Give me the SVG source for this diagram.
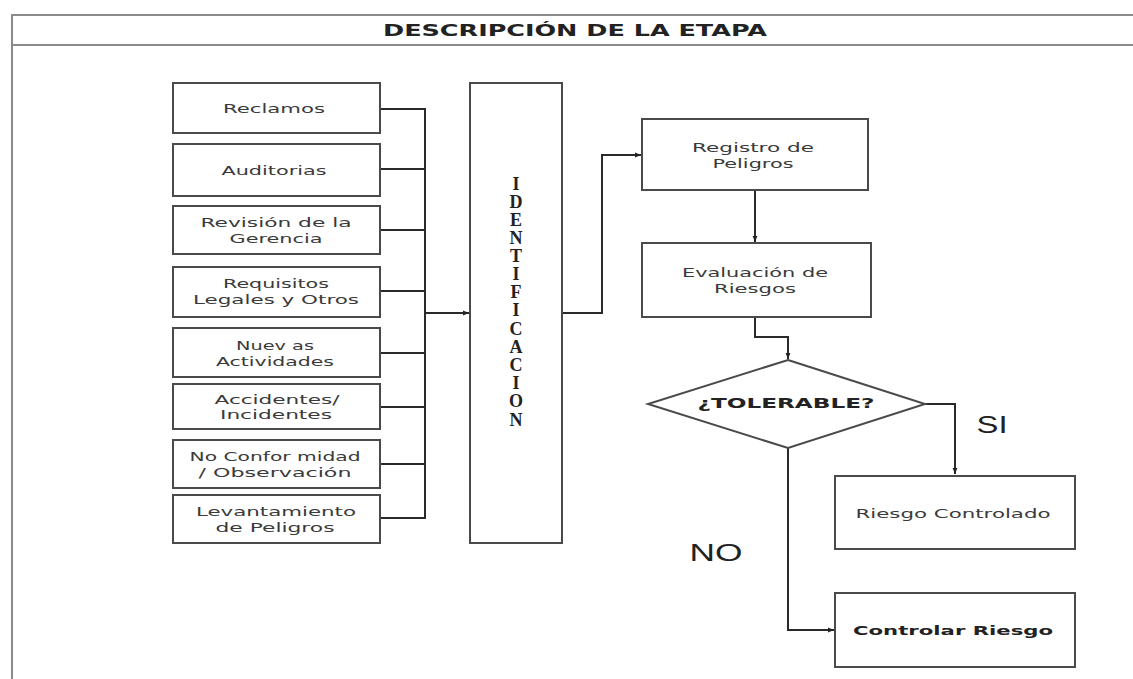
<svg xmlns="http://www.w3.org/2000/svg" width="1133" height="679" viewBox="0 0 1133 679">
  <defs>
    <marker id="arrow" viewBox="0 0 10 10" refX="10" refY="5" markerWidth="6" markerHeight="6" orient="auto" markerUnits="userSpaceOnUse">
      <path d="M0,1 L10,5 L0,9 Z" fill="#222"/>
    </marker>
    <style>
      .frame { fill: none; stroke: #8a8a8a; stroke-width: 2; }
      .box { fill: #ffffff; stroke: #4a4a4a; stroke-width: 2; }
      .wire { fill: none; stroke: #2a2a2a; stroke-width: 2; }
      .lbl { font-family: "DejaVu Sans", "Liberation Sans", sans-serif; font-size: 13px; fill: #3a3a3a; text-anchor: middle; dominant-baseline: central; }
      .strong { font-family: "DejaVu Sans", "Liberation Sans", sans-serif; font-weight: bold; fill: #222; text-anchor: middle; dominant-baseline: central; }
      .vert { font-family: "Liberation Serif", "DejaVu Serif", serif; font-weight: bold; font-size: 18px; fill: #222; text-anchor: middle; dominant-baseline: central; }
      .big { font-family: "Liberation Sans", Arial, sans-serif; font-size: 23px; fill: #222; text-anchor: middle; dominant-baseline: central; }
    </style>
  </defs>

  <rect width="1133" height="679" fill="#ffffff"/>

  <!-- page frame and heading band -->
  <g id="frame">
    <path class="frame" d="M1133,15 H12 V679"/>
    <line class="frame" x1="12" y1="45" x2="1133" y2="45"/>
    <text class="strong" x="575" y="30" font-size="16" textLength="384" lengthAdjust="spacingAndGlyphs">DESCRIPCIÓN DE LA ETAPA</text>
  </g>

  <!-- connectors -->
  <g id="connectors">
    <path class="wire" d="M380,109 H425"/>
    <path class="wire" d="M380,169 H425"/>
    <path class="wire" d="M380,230 H425"/>
    <path class="wire" d="M380,291 H425"/>
    <path class="wire" d="M380,353 H425"/>
    <path class="wire" d="M380,407 H425"/>
    <path class="wire" d="M380,464 H425"/>
    <path class="wire" d="M380,518 H425"/>
    <path class="wire" d="M425,108 V519" stroke-width="2.5"/>
    <path class="wire" d="M425,313 H469" marker-end="url(#arrow)"/>
    <path class="wire" d="M562,313 H602 V155 H641" marker-end="url(#arrow)"/>
    <path class="wire" d="M755,190 V242" marker-end="url(#arrow)"/>
    <path class="wire" d="M755,317 V337 H788 V359" marker-end="url(#arrow)"/>
    <path class="wire" d="M925,404 H955 V474" marker-end="url(#arrow)"/>
    <path class="wire" d="M788,448 V630 H834" marker-end="url(#arrow)"/>
  </g>

  <!-- source boxes -->
  <g id="reclamos">
    <rect class="box" x="173" y="83" width="207" height="50"/>
    <text class="lbl" x="274" y="108" textLength="102" lengthAdjust="spacingAndGlyphs">Reclamos</text>
  </g>
  <g id="auditorias">
    <rect class="box" x="173" y="144" width="207" height="52"/>
    <text class="lbl" x="274" y="170" textLength="105" lengthAdjust="spacingAndGlyphs">Auditorias</text>
  </g>
  <g id="revision">
    <rect class="box" x="173" y="206" width="207" height="48"/>
    <text class="lbl" x="276" y="222" textLength="151" lengthAdjust="spacingAndGlyphs">Revisión de la</text>
    <text class="lbl" x="276" y="238" textLength="93" lengthAdjust="spacingAndGlyphs">Gerencia</text>
  </g>
  <g id="requisitos">
    <rect class="box" x="173" y="267" width="207" height="50"/>
    <text class="lbl" x="276" y="283" textLength="106" lengthAdjust="spacingAndGlyphs">Requisitos</text>
    <text class="lbl" x="276" y="299" textLength="166" lengthAdjust="spacingAndGlyphs">Legales y Otros</text>
  </g>
  <g id="nuevas">
    <rect class="box" x="173" y="328" width="207" height="49"/>
    <text class="lbl" x="275" y="345" textLength="78" lengthAdjust="spacingAndGlyphs">Nuev as</text>
    <text class="lbl" x="275" y="361" textLength="118" lengthAdjust="spacingAndGlyphs">Actividades</text>
  </g>
  <g id="accidentes">
    <rect class="box" x="173" y="384" width="207" height="45"/>
    <text class="lbl" x="277" y="399" textLength="125" lengthAdjust="spacingAndGlyphs">Accidentes/</text>
    <text class="lbl" x="276" y="414" textLength="112" lengthAdjust="spacingAndGlyphs">Incidentes</text>
  </g>
  <g id="noconformidad">
    <rect class="box" x="173" y="440" width="207" height="48"/>
    <text class="lbl" x="275" y="456" textLength="171" lengthAdjust="spacingAndGlyphs">No Confor midad</text>
    <text class="lbl" x="275" y="472" textLength="153" lengthAdjust="spacingAndGlyphs">/ Observación</text>
  </g>
  <g id="levantamiento">
    <rect class="box" x="173" y="495" width="207" height="48"/>
    <text class="lbl" x="276" y="511" textLength="160" lengthAdjust="spacingAndGlyphs">Levantamiento</text>
    <text class="lbl" x="275" y="527" textLength="119" lengthAdjust="spacingAndGlyphs">de Peligros</text>
  </g>

  <!-- vertical identification column -->
  <g id="identificacion">
    <rect class="box" x="470" y="83" width="92" height="460"/>
    <text class="vert" x="516" y="184">I</text>
    <text class="vert" x="516" y="202">D</text>
    <text class="vert" x="516" y="220">E</text>
    <text class="vert" x="516" y="238">N</text>
    <text class="vert" x="516" y="256">T</text>
    <text class="vert" x="516" y="274">I</text>
    <text class="vert" x="516" y="292">F</text>
    <text class="vert" x="516" y="310">I</text>
    <text class="vert" x="516" y="329">C</text>
    <text class="vert" x="516" y="347">A</text>
    <text class="vert" x="516" y="365">C</text>
    <text class="vert" x="516" y="383">I</text>
    <text class="vert" x="516" y="401">O</text>
    <text class="vert" x="516" y="420">N</text>
  </g>

  <!-- right-hand process -->
  <g id="registro">
    <rect class="box" x="642" y="119" width="226" height="71"/>
    <text class="lbl" x="753" y="147" textLength="122" lengthAdjust="spacingAndGlyphs">Registro de</text>
    <text class="lbl" x="753" y="163" textLength="81" lengthAdjust="spacingAndGlyphs">Peligros</text>
  </g>
  <g id="evaluacion">
    <rect class="box" x="642" y="243" width="229" height="74"/>
    <text class="lbl" x="755" y="272" textLength="146" lengthAdjust="spacingAndGlyphs">Evaluación de</text>
    <text class="lbl" x="755" y="288" textLength="82" lengthAdjust="spacingAndGlyphs">Riesgos</text>
  </g>
  <g id="tolerable">
    <polygon points="788,360 925,404 788,448 648,404" fill="#ffffff" stroke="#4a4a4a" stroke-width="2"/>
    <text class="strong" x="786" y="403" font-size="14" textLength="177" lengthAdjust="spacingAndGlyphs">¿TOLERABLE?</text>
  </g>
  <g id="controlado">
    <rect class="box" x="835" y="476" width="240" height="73"/>
    <text class="lbl" x="953" y="513" textLength="195" lengthAdjust="spacingAndGlyphs">Riesgo Controlado</text>
  </g>
  <g id="controlar">
    <rect class="box" x="835" y="593" width="240" height="74"/>
    <text class="strong" x="953" y="630" font-size="13" textLength="200" lengthAdjust="spacingAndGlyphs">Controlar Riesgo</text>
  </g>

  <!-- branch labels -->
  <g id="branch-labels">
    <text class="big" x="992" y="425" textLength="31" lengthAdjust="spacingAndGlyphs">SI</text>
    <text class="big" x="716" y="553" textLength="53" lengthAdjust="spacingAndGlyphs">NO</text>
  </g>
</svg>
